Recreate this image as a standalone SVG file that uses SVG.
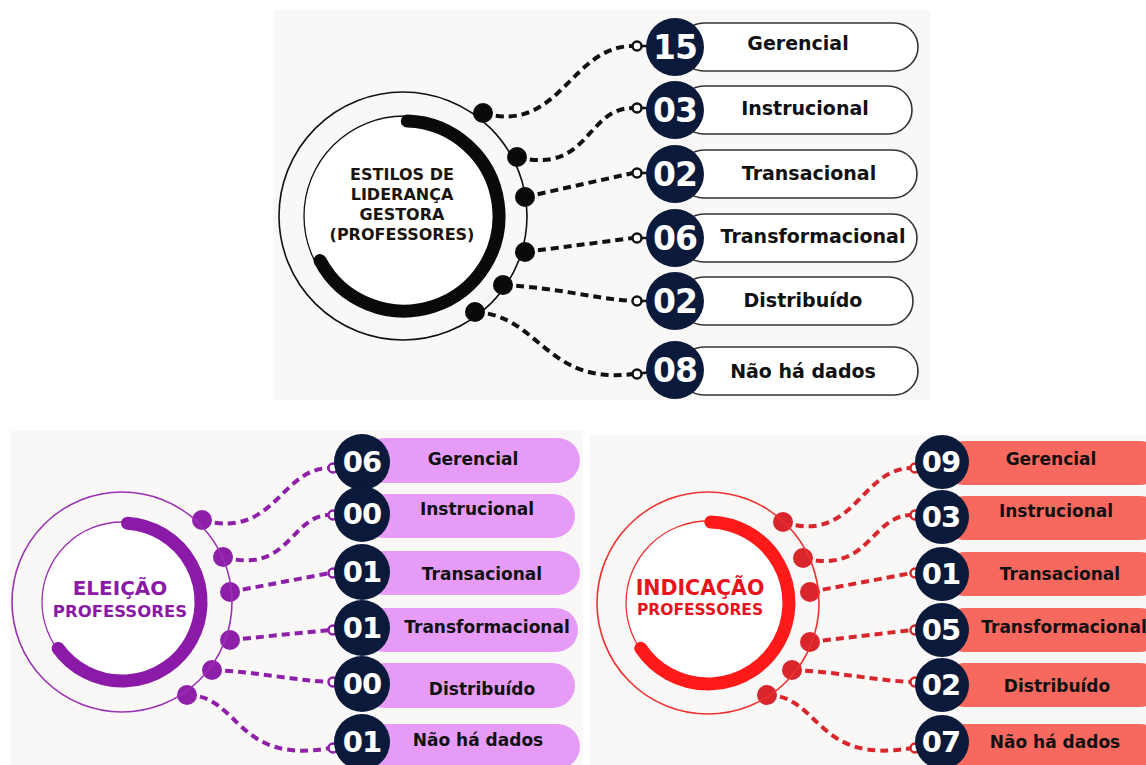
<svg xmlns="http://www.w3.org/2000/svg" width="1146" height="765" viewBox="0 0 1146 765">
<style>
.bg{fill:#f9f8f6}
.lbl{font-family:"DejaVu Sans",sans-serif;font-weight:700;text-anchor:middle;fill:#111}
.num{font-family:"DejaVu Sans",sans-serif;font-weight:700;text-anchor:middle;fill:#fff;letter-spacing:-1px}
.navy{fill:#0b1a3b}
.dash{fill:none;stroke-width:4;stroke-dasharray:8 5}
.k .dash{stroke:#111}
.p .dash{stroke:#8e1fa9}
.r .dash{stroke:#d8262c}
.end{fill:#fff;stroke-width:2.5}
.pillW{fill:#fff;stroke:#333;stroke-width:1.6}
.pillP{fill:#e69cf7}
.pillR{fill:#f7695f}
</style>
<rect class="bg" x="273" y="10" width="658" height="390"/>
<rect class="bg" x="10" y="431" width="573" height="334"/>
<rect class="bg" x="590" y="435" width="556" height="330"/>

<!-- Top hub -->
<g id="hub-top">
<circle cx="403" cy="216" r="124" fill="none" stroke="#111" stroke-width="1.6"/>
<circle cx="404" cy="216" r="100" fill="#fff" stroke="#111" stroke-width="1.3"/>
<path d="M407.3,121.1 A95,95 0 1 1 320.1,260.6" fill="none" stroke="#0a0a0a" stroke-width="13" stroke-linecap="round"/>
<g class="lbl" font-size="16" style="fill:#1a1410">
<text x="402" y="180">ESTILOS DE</text>
<text x="402" y="200">LIDERANÇA</text>
<text x="402" y="220">GESTORA</text>
<text x="402" y="240">(PROFESSORES)</text>
</g>
</g>

<!-- Connectors -->
<g id="connectors">
<g class="k">
<path class="dash" d="M483,113 C560,135 570,46 633,46"/>
<path class="dash" d="M517,157 C590,175 585,108 633,108"/>
<path class="dash" d="M525,197 L633,173"/>
<path class="dash" d="M525,252 L633,238"/>
<path class="dash" d="M503,285 C560,288 590,298 633,301"/>
<path class="dash" d="M475,312 C540,315 545,385 633,374"/>
<g fill="#0a0a0a">
<circle cx="483" cy="113" r="10"/><circle cx="517" cy="157" r="10"/><circle cx="525" cy="197" r="10"/>
<circle cx="525" cy="252" r="10"/><circle cx="503" cy="285" r="10"/><circle cx="475" cy="312" r="10"/>
</g>
<g stroke="#111" stroke-width="2.5">
<line x1="637" y1="46" x2="650" y2="46"/><line x1="637" y1="108" x2="650" y2="108"/><line x1="637" y1="173" x2="650" y2="173"/>
<line x1="637" y1="238" x2="650" y2="238"/><line x1="637" y1="301" x2="650" y2="301"/><line x1="637" y1="374" x2="650" y2="372"/>
</g>
<g class="end" stroke="#111">
<circle cx="637" cy="46" r="4.5"/><circle cx="637" cy="108" r="4.5"/><circle cx="637" cy="173" r="4.5"/>
<circle cx="637" cy="238" r="4.5"/><circle cx="637" cy="301" r="4.5"/><circle cx="637" cy="374" r="4.5"/>
</g>
</g>
<g class="p">
<path class="dash" d="M202,520 C275,540 280,468 330,468"/>
<path class="dash" d="M223,557 C290,575 290,515 330,515"/>
<path class="dash" d="M230,592 L330,573"/>
<path class="dash" d="M230,640 L330,630"/>
<path class="dash" d="M212,670 C260,672 290,680 330,682"/>
<path class="dash" d="M187,695 C240,695 235,765 330,748"/>
<g fill="#8e1fa9">
<circle cx="202" cy="520" r="10"/><circle cx="223" cy="557" r="10"/><circle cx="230" cy="592" r="10"/>
<circle cx="230" cy="640" r="10"/><circle cx="212" cy="670" r="10"/><circle cx="187" cy="695" r="10"/>
</g>
<g class="end" stroke="#8e1fa9">
<circle cx="333" cy="468" r="4.5"/><circle cx="333" cy="515" r="4.5"/><circle cx="333" cy="573" r="4.5"/>
<circle cx="333" cy="630" r="4.5"/><circle cx="333" cy="682" r="4.5"/><circle cx="333" cy="748" r="4.5"/>
</g>
</g>
<g class="r">
<path class="dash" d="M783,522 C855,545 860,468 912,468"/>
<path class="dash" d="M803,558 C870,575 870,515 912,515"/>
<path class="dash" d="M810,592 L912,573"/>
<path class="dash" d="M810,642 L912,630"/>
<path class="dash" d="M792,670 C840,672 870,680 912,682"/>
<path class="dash" d="M767,695 C820,695 815,765 912,748"/>
<g fill="#d8262c">
<circle cx="783" cy="522" r="10"/><circle cx="803" cy="558" r="10"/><circle cx="810" cy="592" r="10"/>
<circle cx="810" cy="642" r="10"/><circle cx="792" cy="670" r="10"/><circle cx="767" cy="695" r="10"/>
</g>
<g class="end" stroke="#d8262c">
<circle cx="915" cy="468" r="4.5"/><circle cx="915" cy="515" r="4.5"/><circle cx="915" cy="573" r="4.5"/>
<circle cx="915" cy="630" r="4.5"/><circle cx="915" cy="682" r="4.5"/><circle cx="915" cy="748" r="4.5"/>
</g>
</g>
</g>

<!-- Top rows -->
<g id="top-gerencial"><rect class="pillW" x="680" y="23" width="238" height="48" rx="24"/><circle class="navy" cx="675" cy="47" r="29"/><text class="num" x="675" y="59" font-size="33">15</text><text class="lbl" x="798" y="50" font-size="19">Gerencial</text></g>
<g id="top-instrucional"><rect class="pillW" x="680" y="86" width="232" height="48" rx="24"/><circle class="navy" cx="675" cy="110" r="29"/><text class="num" x="675" y="122" font-size="33">03</text><text class="lbl" x="805" y="115" font-size="19">Instrucional</text></g>
<g id="top-transacional"><rect class="pillW" x="680" y="150" width="237" height="48" rx="24"/><circle class="navy" cx="675" cy="174" r="29"/><text class="num" x="675" y="186" font-size="33">02</text><text class="lbl" x="809" y="180" font-size="19">Transacional</text></g>
<g id="top-transformacional"><rect class="pillW" x="680" y="214" width="237" height="48" rx="24"/><circle class="navy" cx="675" cy="238" r="29"/><text class="num" x="675" y="250" font-size="33">06</text><text class="lbl" x="813" y="243" font-size="19">Transformacional</text></g>
<g id="top-distribuido"><rect class="pillW" x="680" y="277" width="233" height="48" rx="24"/><circle class="navy" cx="675" cy="301" r="29"/><text class="num" x="675" y="313" font-size="33">02</text><text class="lbl" x="803" y="307" font-size="19">Distribuído</text></g>
<g id="top-naohadados"><rect class="pillW" x="680" y="347" width="238" height="48" rx="24"/><circle class="navy" cx="675" cy="370" r="29"/><text class="num" x="675" y="382" font-size="33">08</text><text class="lbl" x="803" y="378" font-size="19">Não há dados</text></g>

<!-- Eleição hub -->
<g id="hub-eleicao">
<circle cx="122" cy="602" r="110" fill="none" stroke="#9b30b5" stroke-width="1.6"/>
<circle cx="122" cy="602" r="80" fill="#fff" stroke="#9b30b5" stroke-width="1.3"/>
<path d="M127.5,523.2 A79,79 0 1 1 58.1,648.4" fill="none" stroke="#8c1aa8" stroke-width="13" stroke-linecap="round"/>
<text class="lbl" x="120" y="595" font-size="20" style="fill:#8a1aa6">ELEIÇÃO</text>
<text class="lbl" x="120" y="617" font-size="16.5" style="fill:#8a1aa6">PROFESSORES</text>
</g>

<g id="el-gerencial"><rect class="pillP" x="362" y="438" width="218" height="45" rx="22.5"/><circle class="navy" cx="362" cy="462" r="28"/><text class="num" x="362" y="472" font-size="29">06</text><text class="lbl" x="473" y="465" font-size="17">Gerencial</text></g>
<g id="el-instrucional"><rect class="pillP" x="362" y="494" width="213" height="44" rx="22"/><circle class="navy" cx="362" cy="514" r="28"/><text class="num" x="362" y="524" font-size="29">00</text><text class="lbl" x="477" y="515" font-size="17">Instrucional</text></g>
<g id="el-transacional"><rect class="pillP" x="362" y="551" width="218" height="44" rx="22"/><circle class="navy" cx="362" cy="572" r="28"/><text class="num" x="362" y="582" font-size="29">01</text><text class="lbl" x="482" y="580" font-size="17">Transacional</text></g>
<g id="el-transformacional"><rect class="pillP" x="362" y="608" width="216" height="44" rx="22"/><circle class="navy" cx="362" cy="628" r="28"/><text class="num" x="362" y="638" font-size="29">01</text><text class="lbl" x="487" y="633" font-size="17">Transformacional</text></g>
<g id="el-distribuido"><rect class="pillP" x="362" y="663" width="213" height="45" rx="22.5"/><circle class="navy" cx="362" cy="684" r="28"/><text class="num" x="362" y="694" font-size="29">00</text><text class="lbl" x="482" y="695" font-size="17">Distribuído</text></g>
<g id="el-naohadados"><rect class="pillP" x="362" y="724" width="218" height="45" rx="22.5"/><circle class="navy" cx="362" cy="742" r="28"/><text class="num" x="362" y="752" font-size="29">01</text><text class="lbl" x="478" y="746" font-size="17">Não há dados</text></g>

<!-- Indicação hub -->
<g id="hub-indicacao">
<circle cx="708" cy="603" r="111" fill="none" stroke="#f03030" stroke-width="1.6"/>
<circle cx="708" cy="603" r="82" fill="#fff" stroke="#f03030" stroke-width="1.3"/>
<path d="M710.8,522 A81,81 0 1 1 640.8,648.3" fill="none" stroke="#ff1a1a" stroke-width="13" stroke-linecap="round"/>
<text class="lbl" x="700" y="595" font-size="20.5" style="fill:#e8141b">INDICAÇÃO</text>
<text class="lbl" x="700" y="615" font-size="15.5" style="fill:#e8141b">PROFESSORES</text>
</g>

<g id="in-gerencial"><rect class="pillR" x="942" y="441" width="220" height="44" rx="22"/><circle class="navy" cx="942" cy="462" r="27"/><text class="num" x="941" y="472" font-size="29">09</text><text class="lbl" x="1051" y="465" font-size="17">Gerencial</text></g>
<g id="in-instrucional"><rect class="pillR" x="942" y="496" width="220" height="44" rx="22"/><circle class="navy" cx="942" cy="517" r="27"/><text class="num" x="941" y="527" font-size="29">03</text><text class="lbl" x="1056" y="517" font-size="17">Instrucional</text></g>
<g id="in-transacional"><rect class="pillR" x="942" y="552" width="220" height="44" rx="22"/><circle class="navy" cx="942" cy="574" r="27"/><text class="num" x="941" y="584" font-size="29">01</text><text class="lbl" x="1060" y="580" font-size="17">Transacional</text></g>
<g id="in-transformacional"><rect class="pillR" x="942" y="608" width="220" height="44" rx="22"/><circle class="navy" cx="942" cy="630" r="27"/><text class="num" x="941" y="640" font-size="29">05</text><text class="lbl" x="1064" y="633" font-size="17">Transformacional</text></g>
<g id="in-distribuido"><rect class="pillR" x="942" y="663" width="220" height="44" rx="22"/><circle class="navy" cx="942" cy="685" r="27"/><text class="num" x="941" y="695" font-size="29">02</text><text class="lbl" x="1057" y="692" font-size="17">Distribuído</text></g>
<g id="in-naohadados"><rect class="pillR" x="942" y="724" width="220" height="44" rx="22"/><circle class="navy" cx="942" cy="742" r="27"/><text class="num" x="941" y="752" font-size="29">07</text><text class="lbl" x="1055" y="748" font-size="17">Não há dados</text></g>
</svg>
